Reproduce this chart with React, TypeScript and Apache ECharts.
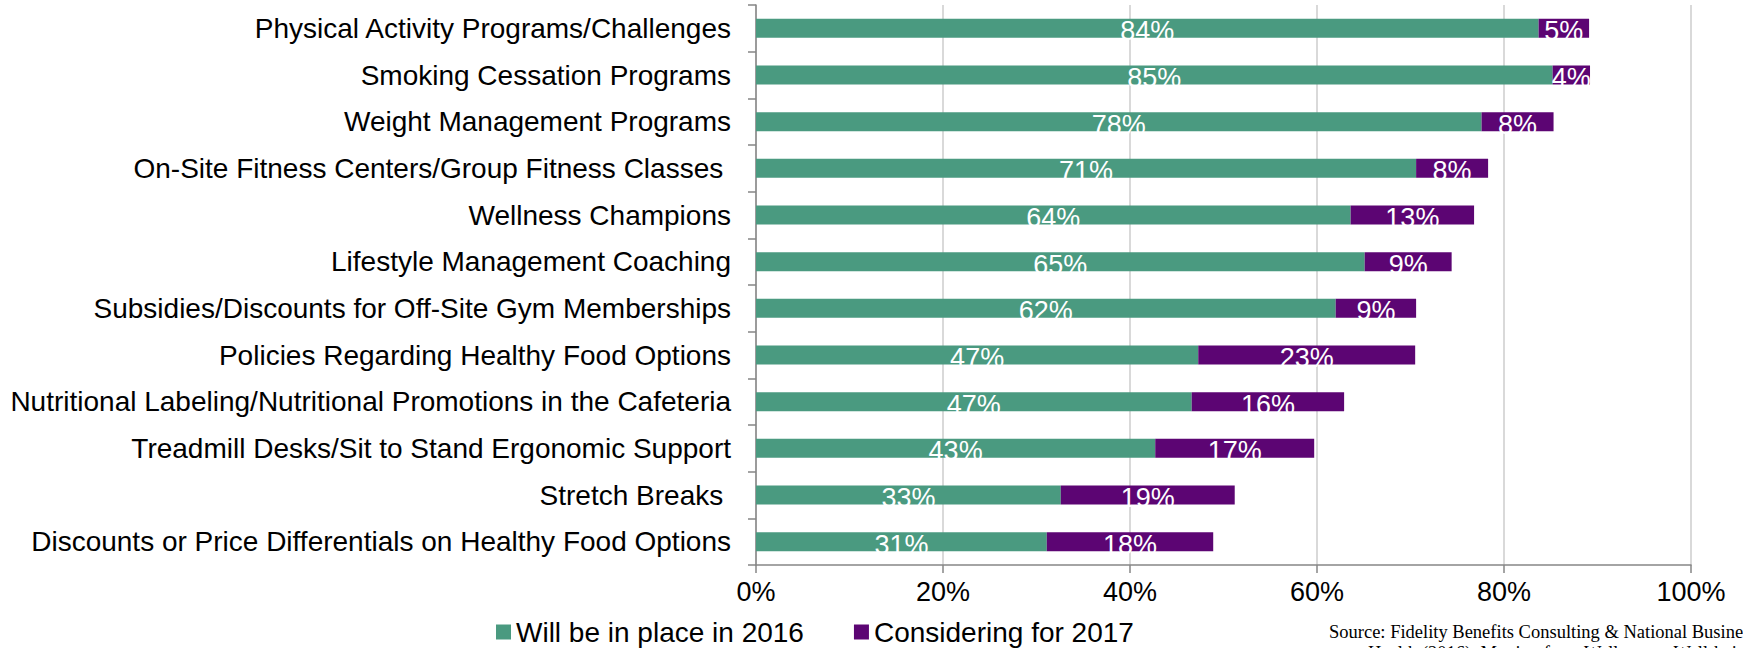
import React, { useEffect, useRef } from "react";
import * as echarts from "echarts";

const categories = [
  "Physical Activity Programs/Challenges",
  "Smoking Cessation Programs",
  "Weight Management Programs",
  "On-Site Fitness Centers/Group Fitness Classes ",
  "Wellness Champions",
  "Lifestyle Management Coaching",
  "Subsidies/Discounts for Off-Site Gym Memberships",
  "Policies Regarding Healthy Food Options",
  "Nutritional Labeling/Nutritional Promotions in the Cafeteria",
  "Treadmill Desks/Sit to Stand Ergonomic Support",
  "Stretch Breaks ",
  "Discounts or Price Differentials on Healthy Food Options",
];

const inPlace2016 = [83.7, 85.2, 77.6, 70.6, 63.6, 65.1, 62.0, 47.3, 46.6, 42.7, 32.6, 31.1];
const considering2017 = [5.4, 4.0, 7.7, 7.7, 13.2, 9.3, 8.6, 23.2, 16.3, 17.0, 18.6, 17.8];

const seriesNames = ["Will be in place in 2016", "Considering for 2017"];
const xTicks = [0, 20, 40, 60, 80, 100];

const sourceLine1 = "Source: Fidelity Benefits Consulting & National Business Group on";
const sourceLine2 = "Health (2016). Moving from Wellness to Well-being";

const SANS = '"Liberation Sans", Arial, sans-serif';
const SERIF = '"Liberation Serif", "Times New Roman", serif';

export default function App() {
  const ref = useRef<HTMLDivElement>(null);

  useEffect(() => {
    if (!ref.current) return;
    const chart = echarts.init(ref.current, undefined, { renderer: "svg" });
    const label = {
      show: true,
      position: "inside",
      offset: [0, 3],
      color: "#ffffff",
      fontSize: 27,
      fontFamily: SANS,
      formatter: (p: any) => Math.round(p.value) + "%",
    };
    chart.setOption({
      animation: false,
      backgroundColor: "#ffffff",
      grid: { left: 756, right: 52, top: 5, height: 560, containLabel: false },
      xAxis: {
        type: "value",
        min: xTicks[0],
        max: xTicks[xTicks.length - 1],
        interval: 20,
        axisLine: { show: true, lineStyle: { color: "#868686", width: 1.5 } },
        axisTick: { show: true, length: 8, lineStyle: { color: "#868686", width: 1.5 } },
        axisLabel: {
          formatter: (v: number) => v + "%",
          color: "#000000",
          fontSize: 27,
          fontFamily: SANS,
          margin: 13,
        },
        splitLine: { show: true, lineStyle: { color: "#d9d9d9", width: 2 } },
      },
      yAxis: {
        type: "category",
        inverse: true,
        data: categories,
        axisLine: { show: true, lineStyle: { color: "#868686", width: 1.5 } },
        axisTick: { show: true, length: 8, alignWithLabel: false, lineStyle: { color: "#868686", width: 1.5 } },
        axisLabel: {
          color: "#000000",
          fontSize: 28,
          fontFamily: SANS,
          margin: 25,
        },
      },
      legend: {
        left: 491,
        top: 613,
        itemWidth: 15,
        itemHeight: 15,
        itemGap: 50,
        icon: "rect",
        textStyle: { color: "#000000", fontSize: 28, fontFamily: SANS },
        data: seriesNames,
      },
      series: [
        {
          name: seriesNames[0],
          type: "bar",
          stack: "total",
          barWidth: 19,
          data: inPlace2016,
          itemStyle: { color: "#4A9A80" },
          label,
        },
        {
          name: seriesNames[1],
          type: "bar",
          stack: "total",
          barWidth: 19,
          data: considering2017,
          itemStyle: { color: "#5C0573" },
          label,
        },
      ],
      graphic: [
        {
          type: "text",
          left: 1329,
          top: 622,
          style: { text: sourceLine1, fontSize: 18.5, fontFamily: SERIF, fill: "#000000" },
        },
        {
          type: "text",
          left: 1368,
          top: 643,
          style: { text: sourceLine2, fontSize: 18.5, fontFamily: SERIF, fill: "#000000" },
        },
      ],
    });
    return () => chart.dispose();
  }, []);

  return (
    <div
      ref={ref}
      style={{ position: "absolute", left: 0, top: 0, width: 1743, height: 648, overflow: "hidden" }}
    />
  );
}
